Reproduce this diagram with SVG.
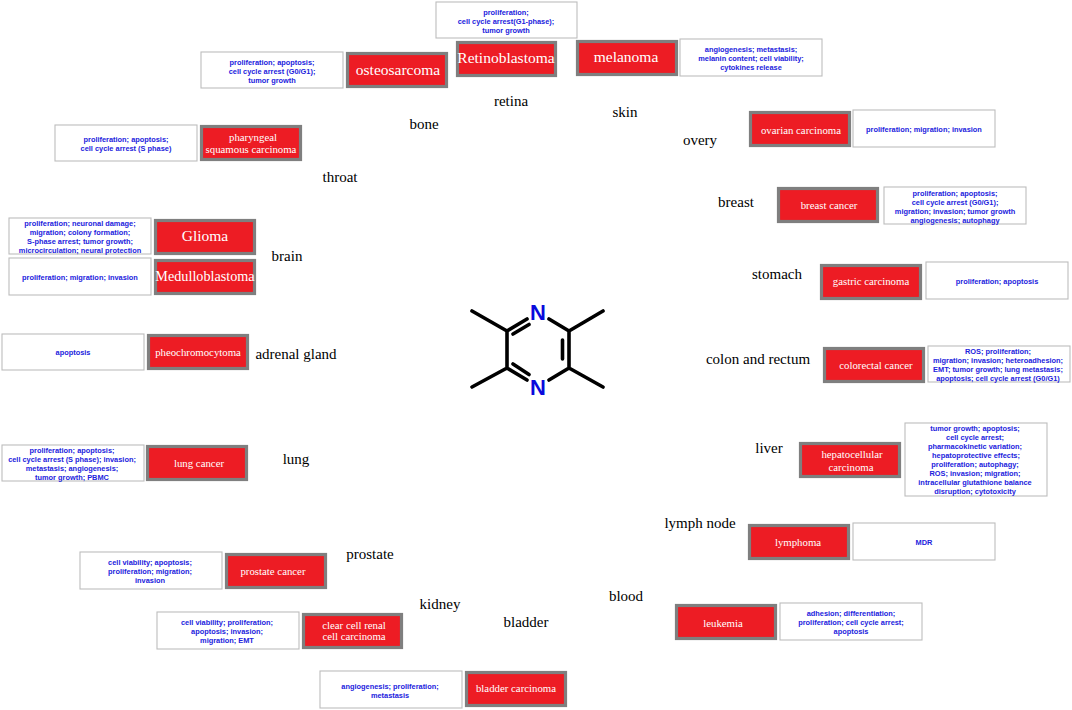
<svg xmlns="http://www.w3.org/2000/svg" width="1072" height="710" viewBox="0 0 1072 710">
<style>
.r{fill:#ed1c24;stroke:#7f7f7f;stroke-width:3.2}
.w{fill:#fff;stroke:#bdbdbd;stroke-width:1.1}
.d{font-family:"Liberation Serif",serif;fill:#fff;text-anchor:middle;font-size:10.8px}
.l{font-size:15.500px}
.m{font-size:14.200px}
.o{font-family:"Liberation Serif",serif;fill:#000;font-size:15px;text-anchor:middle}
.e{font-family:"Liberation Sans",Arial,sans-serif;font-weight:bold;fill:#2222dd;font-size:7.400px;text-anchor:middle}
.b{stroke:#000;stroke-width:3.600;stroke-linecap:round;fill:none}
.n{font-family:"Liberation Sans",Arial,sans-serif;font-weight:bold;fill:#0a0adc;font-size:22px;text-anchor:middle}
</style>
<rect width="1072" height="710" fill="#fff"/>
<g id="molecule">
<path class="b" d="M472 311L507 331V368L472 387M507 368L527 380M507 331L527 319M549 319L569 331V368L549 380M569 331L603 311M569 368L603 387M513 334L529 324.500M513 364L529 374.500M562.500 340V359"/>
<text class="n" x="538" y="320">N</text>
<text class="n" x="538" y="395">N</text>
</g>
<g id="retina">
<rect class="w" x="436" y="2" width="141" height="36"/>
<text class="e" x="506" y="14.500">proliferation;</text><text class="e" x="506" y="23.500">cell cycle arrest(G1-phase);</text><text class="e" x="506" y="32.500">tumor growth</text>
<rect class="r" x="457.500" y="42.500" width="98" height="33"/>
<text class="d l" x="506" y="62.500">Retinoblastoma</text>
<text class="o" x="511" y="106">retina</text>
</g>
<g id="bone">
<rect class="w" x="201" y="52" width="142" height="36"/>
<text class="e" x="272" y="64.500">proliferation; apoptosis;</text><text class="e" x="272" y="73.500">cell cycle arrest (G0/G1);</text><text class="e" x="272" y="82.500">tumor growth</text>
<rect class="r" x="347.500" y="53.500" width="99" height="33"/>
<text class="d l" x="398" y="75">osteosarcoma</text>
<text class="o" x="424" y="129">bone</text>
</g>
<g id="throat">
<rect class="w" x="55" y="125" width="142" height="36"/>
<text class="e" x="126" y="142">proliferation; apoptosis;</text><text class="e" x="126" y="151">cell cycle arrest (S phase)</text>
<rect class="r" x="201.500" y="126.500" width="99" height="33"/>
<text class="d" x="253" y="141">pharyngeal</text><text class="d" x="251" y="153">squamous carcinoma</text>
<text class="o" x="340" y="182">throat</text>
</g>
<g id="brain">
<rect class="w" x="9" y="218" width="142" height="36"/>
<text class="e" x="80" y="226">proliferation; neuronal damage;</text><text class="e" x="80" y="235">migration; colony formation;</text><text class="e" x="80" y="244">S-phase arrest; tumor growth;</text><text class="e" x="80" y="253">microcirculation; neural protection</text>
<rect class="r" x="155.500" y="220.500" width="99" height="33"/>
<text class="d l" x="205" y="241">Glioma</text>
<rect class="w" x="9" y="258" width="142" height="37"/>
<text class="e" x="80" y="280">proliferation; migration; invasion</text>
<rect class="r" x="155.500" y="260.500" width="99" height="33"/>
<text class="d m" x="205" y="281">Medulloblastoma</text>
<text class="o" x="287" y="261">brain</text>
</g>
<g id="adrenal-gland">
<rect class="w" x="2" y="334" width="142" height="36"/>
<text class="e" x="73" y="355">apoptosis</text>
<rect class="r" x="148.500" y="335.500" width="99" height="33"/>
<text class="d" x="198" y="356">pheochromocytoma</text>
<text class="o" x="296" y="359">adrenal gland</text>
</g>
<g id="lung">
<rect class="w" x="2" y="445" width="142" height="36"/>
<text class="e" x="72" y="453">proliferation; apoptosis;</text><text class="e" x="72" y="462">cell cycle arrest (S phase);  invasion;</text><text class="e" x="72" y="471">metastasis; angiogenesis;</text><text class="e" x="72" y="480">tumor growth; PBMC</text>
<rect class="r" x="147.500" y="446.500" width="99" height="33"/>
<text class="d" x="199" y="467">lung cancer</text>
<text class="o" x="296" y="464">lung</text>
</g>
<g id="prostate">
<rect class="w" x="80" y="552" width="142" height="37"/>
<text class="e" x="150" y="565">cell viability; apoptosis;</text><text class="e" x="150" y="574">proliferation; migration;</text><text class="e" x="150" y="583">invasion</text>
<rect class="r" x="226.500" y="554.500" width="99" height="33"/>
<text class="d" x="273" y="575">prostate cancer</text>
<text class="o" x="370" y="559">prostate</text>
</g>
<g id="kidney">
<rect class="w" x="157" y="612" width="142" height="37"/>
<text class="e" x="227" y="625">cell viability; proliferation;</text><text class="e" x="227" y="634">apoptosis; invasion;</text><text class="e" x="227" y="643">migration; EMT</text>
<rect class="r" x="303.500" y="614.500" width="98" height="33"/>
<text class="d" x="354" y="629">clear cell renal</text><text class="d" x="354" y="640">cell carcinoma</text>
<text class="o" x="440" y="609">kidney</text>
</g>
<g id="bladder">
<rect class="w" x="320" y="671" width="142" height="37"/>
<text class="e" x="390" y="689">angiogenesis; proliferation;</text><text class="e" x="390" y="698">metastasis</text>
<rect class="r" x="466.500" y="672.500" width="99" height="33"/>
<text class="d" x="516" y="692">bladder carcinoma</text>
<text class="o" x="526" y="627">bladder</text>
</g>
<g id="blood">
<rect class="w" x="780" y="603" width="142" height="37"/>
<text class="e" x="851" y="616">adhesion; differentiation;</text><text class="e" x="851" y="625">proliferation; cell cycle arrest;</text><text class="e" x="851" y="634">apoptosis</text>
<rect class="r" x="676.500" y="605.500" width="99" height="33"/>
<text class="d" x="723" y="627">leukemia</text>
<text class="o" x="626" y="601">blood</text>
</g>
<g id="lymph-node">
<rect class="w" x="853" y="523" width="142" height="37"/>
<text class="e" x="924" y="545">MDR</text>
<rect class="r" x="749.500" y="525.500" width="99" height="33"/>
<text class="d" x="798" y="546">lymphoma</text>
<text class="o" x="700" y="528">lymph node</text>
</g>
<g id="liver">
<rect class="w" x="905" y="423" width="142" height="73"/>
<text class="e" x="975" y="431">tumor growth; apoptosis;</text><text class="e" x="975" y="440">cell cycle arrest;</text><text class="e" x="975" y="449">pharmacokinetic variation;</text><text class="e" x="976" y="458">hepatoprotective effects;</text><text class="e" x="975" y="467">proliferation; autophagy;</text><text class="e" x="975" y="476">ROS; invasion; migration;</text><text class="e" x="975" y="485">intracellular glutathione balance</text><text class="e" x="975" y="494">disruption; cytotoxicity</text>
<rect class="r" x="800.500" y="443.500" width="99" height="33"/>
<text class="d" x="852" y="458">hepatocellular</text><text class="d" x="851" y="471">carcinoma</text>
<text class="o" x="769" y="453">liver</text>
</g>
<g id="colon-and-rectum">
<rect class="w" x="928" y="346" width="142" height="36"/>
<text class="e" x="998" y="354">ROS; proliferation;</text><text class="e" x="998" y="363">migration; invasion; heteroadhesion;</text><text class="e" x="998" y="372">EMT; tumor growth; lung metastasis;</text><text class="e" x="998" y="381">apoptosis; cell cycle arrest (G0/G1)</text>
<rect class="r" x="824.500" y="348.500" width="99" height="33"/>
<text class="d" x="876" y="369">colorectal cancer</text>
<text class="o" x="758" y="364">colon and rectum</text>
</g>
<g id="stomach">
<rect class="w" x="926" y="262" width="142" height="37"/>
<text class="e" x="997" y="284">proliferation; apoptosis</text>
<rect class="r" x="821.500" y="265.500" width="99" height="33"/>
<text class="d" x="871" y="285">gastric carcinoma</text>
<text class="o" x="777" y="279">stomach</text>
</g>
<g id="breast">
<rect class="w" x="884" y="187" width="142" height="37"/>
<text class="e" x="955" y="196">proliferation; apoptosis;</text><text class="e" x="955" y="205">cell cycle arrest (G0/G1);</text><text class="e" x="955" y="214">migration; invasion; tumor growth</text><text class="e" x="955" y="223">angiogenesis; autophagy</text>
<rect class="r" x="778.500" y="188.500" width="99" height="33"/>
<text class="d" x="829" y="209">breast cancer</text>
<text class="o" x="736" y="207">breast</text>
</g>
<g id="overy">
<rect class="w" x="853" y="110" width="142" height="37"/>
<text class="e" x="924" y="132">proliferation; migration; invasion</text>
<rect class="r" x="750.500" y="112.500" width="99" height="33"/>
<text class="d" x="801" y="134">ovarian carcinoma</text>
<text class="o" x="700" y="145">overy</text>
</g>
<g id="skin">
<rect class="w" x="680" y="39" width="142" height="37"/>
<text class="e" x="751" y="52">angiogenesis; metastasis;</text><text class="e" x="751" y="61">melanin content; cell viability;</text><text class="e" x="751" y="70">cytokines release</text>
<rect class="r" x="577.500" y="41.500" width="99" height="33"/>
<text class="d l" x="626" y="62">melanoma</text>
<text class="o" x="625" y="117">skin</text>
</g>
</svg>
